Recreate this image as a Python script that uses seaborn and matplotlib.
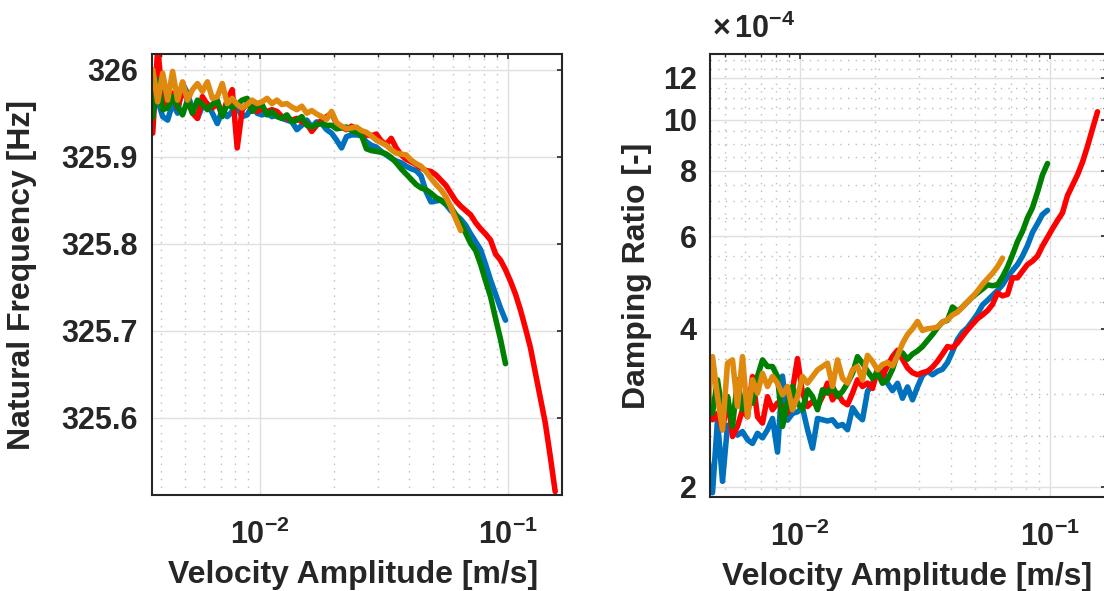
import numpy as np
import pandas as pd
import matplotlib
matplotlib.use("Agg")
import matplotlib.pyplot as plt
import seaborn as sns
from matplotlib.ticker import FixedLocator, FixedFormatter, NullFormatter

# ---------------- data ----------------
# common velocity sampling (m/s)
velocity = [
    0.003715, 0.003890, 0.004074, 0.004266, 0.004467, 0.004677, 0.004898, 0.005129, 0.005370, 0.005623,
    0.005888, 0.006166, 0.006457, 0.006761, 0.007079, 0.007413, 0.007762, 0.008128, 0.008511, 0.008913,
    0.009333, 0.009772, 0.01023, 0.01072, 0.01122, 0.01175, 0.01230, 0.01288, 0.01349, 0.01413,
    0.01479, 0.01549, 0.01622, 0.01698, 0.01778, 0.01862, 0.01950, 0.02042, 0.02138, 0.02239,
    0.02344, 0.02455, 0.02570, 0.02692, 0.02818, 0.02951, 0.03090, 0.03236, 0.03388, 0.03548,
    0.03715, 0.03890, 0.04074, 0.04266, 0.04467, 0.04677, 0.04898, 0.05129, 0.05370, 0.05623,
    0.05888, 0.06166, 0.06457, 0.06761, 0.07079, 0.07413, 0.07762, 0.08128, 0.08511, 0.08913,
    0.09333, 0.09772, 0.1023, 0.1072, 0.1122, 0.1175, 0.1230, 0.1288, 0.1349, 0.1413,
    0.1479, 0.1549,
]

# natural frequency [Hz] (start at velocity[0])
freq_blue = [
    325.958, 325.965, 325.946, 325.942, 325.961, 325.950, 325.984, 325.973, 325.954, 325.944,
    325.958, 325.961, 325.950, 325.938, 325.954, 325.946, 325.952, 325.956, 325.946, 325.948,
    325.958, 325.950, 325.948, 325.950, 325.946, 325.948, 325.944, 325.942, 325.940, 325.931,
    325.936, 325.942, 325.934, 325.940, 325.938, 325.931, 325.927, 325.919, 325.910, 325.923,
    325.925, 325.925, 325.924, 325.917, 325.913, 325.911, 325.906, 325.902, 325.898, 325.895,
    325.893, 325.889, 325.886, 325.884, 325.878, 325.860, 325.848, 325.849, 325.850, 325.845,
    325.838, 325.833, 325.828, 325.821, 325.811, 325.802, 325.793, 325.776, 325.758, 325.742,
    325.726, 325.712,
]
freq_red = [
    325.927, 326.025, 325.965, 325.958, 325.973, 325.956, 325.977, 325.965, 325.950, 325.944,
    325.969, 325.960, 325.956, 325.961, 325.948, 325.965, 325.977, 325.910, 325.954, 325.961,
    325.956, 325.952, 325.955, 325.952, 325.954, 325.952, 325.946, 325.944, 325.942, 325.944,
    325.940, 325.938, 325.929, 325.936, 325.942, 325.946, 325.950, 325.938, 325.934, 325.931,
    325.935, 325.932, 325.927, 325.925, 325.924, 325.926, 325.918, 325.914, 325.921, 325.910,
    325.902, 325.897, 325.894, 325.891, 325.887, 325.884, 325.883, 325.879, 325.873, 325.867,
    325.858, 325.849, 325.843, 325.838, 325.833, 325.824, 325.817, 325.811, 325.804, 325.788,
    325.781, 325.770, 325.757, 325.742, 325.724, 325.703, 325.681, 325.652, 325.623, 325.594,
    325.556, 325.515,
]
freq_green = [
    325.945, 325.988, 325.954, 325.956, 325.969, 325.958, 325.948, 325.965, 325.950, 325.965,
    325.960, 325.954, 325.960, 325.965, 325.946, 325.961, 325.956, 325.960, 325.965, 325.967,
    325.952, 325.958, 325.960, 325.948, 325.952, 325.946, 325.944, 325.948, 325.940, 325.942,
    325.946, 325.936, 325.934, 325.937, 325.938, 325.936, 325.936, 325.932, 325.933, 325.934,
    325.930, 325.928, 325.925, 325.909, 325.907, 325.906, 325.905, 325.903, 325.899, 325.893,
    325.886, 325.880, 325.874, 325.868, 325.864, 325.862, 325.858, 325.853, 325.850, 325.846,
    325.842, 325.833, 325.823, 325.812, 325.800, 325.792, 325.776, 325.757, 325.739, 325.714,
    325.690, 325.662,
]
freq_orange = [
    326.000, 325.963, 325.996, 325.965, 325.998, 325.965, 325.986, 325.965, 325.977, 325.984,
    325.975, 325.986, 325.967, 325.969, 325.984, 325.961, 325.967, 325.960, 325.956, 325.960,
    325.965, 325.961, 325.963, 325.967, 325.961, 325.965, 325.960, 325.961, 325.957, 325.954,
    325.958, 325.950, 325.953, 325.949, 325.946, 325.943, 325.952, 325.939, 325.935, 325.932,
    325.933, 325.934, 325.930, 325.928, 325.924, 325.919, 325.916, 325.913, 325.908, 325.904,
    325.903, 325.902, 325.896, 325.892, 325.889, 325.883, 325.875, 325.868, 325.862, 325.854,
    325.842, 325.828, 325.815,
]

# damping ratio [x 1e-4] (start at velocity[3])
damp_start = 3
damp_blue = [
    2.30, 1.95, 2.68, 2.05, 2.62, 2.57, 2.51, 2.55, 2.46, 2.42,
    2.53, 2.48, 2.57, 2.70, 2.33, 3.25, 2.68, 2.76, 2.78, 2.83,
    2.57, 2.37, 2.70, 2.685, 2.67, 2.685, 2.61, 2.63, 2.57, 2.83,
    2.74, 2.685, 3.04, 3.15, 3.35, 3.35, 3.15, 3.05, 3.15, 2.95,
    3.10, 2.93, 3.10, 3.26, 3.32, 3.27, 3.32, 3.35, 3.45, 3.62,
    3.82, 3.94, 4.02, 4.14, 4.27, 4.44, 4.53, 4.63, 4.73, 4.85,
    5.02, 5.16, 5.30, 5.50, 5.76, 6.10, 6.34, 6.60, 6.72,
]
damp_red = [
    2.89, 2.685, 2.76, 2.57, 2.97, 2.495, 2.61, 2.805, 2.72, 3.245,
    2.72, 2.646, 2.97, 2.805, 2.89, 2.846, 2.764, 3.06, 3.51, 3.017,
    2.846, 2.91, 2.846, 2.972, 3.152, 2.93, 3.017, 2.91, 2.867, 3.017,
    3.198, 3.106, 3.152, 3.08, 3.34, 3.25, 3.40, 3.54, 3.64, 3.50,
    3.37, 3.30, 3.27, 3.30, 3.32, 3.38, 3.47, 3.58, 3.70, 3.68,
    3.76, 3.87, 3.98, 4.08, 4.18, 4.25, 4.33, 4.45, 4.68, 4.62,
    4.65, 5.00, 5.00, 5.15, 5.30, 5.38, 5.50, 5.75, 5.97, 6.20,
    6.43, 6.65, 7.17, 7.50, 7.85, 8.30, 8.90, 9.60, 10.35,
]
damp_green = [
    3.061, 2.764, 3.198, 2.764, 2.972, 2.607, 3.198, 2.805, 3.017, 2.888,
    3.245, 3.49, 3.39, 3.39, 3.245, 2.607, 2.888, 3.106, 2.888, 2.805,
    3.061, 2.972, 2.805, 3.061, 3.017, 3.106, 2.972, 3.04, 3.152, 3.29,
    3.54, 3.44, 3.32, 3.22, 3.30, 3.15, 3.20, 3.35, 3.58, 3.60,
    3.50, 3.58, 3.63, 3.70, 3.80, 3.90, 4.02, 4.12, 4.15, 4.40,
    4.32, 4.40, 4.50, 4.60, 4.68, 4.76, 4.85, 4.83, 4.85, 5.02,
    5.24, 5.53, 5.86, 6.13, 6.50, 6.80, 7.28, 7.85, 8.25,
]
damp_orange = [
    2.764, 3.54, 2.972, 2.57, 3.44, 3.49, 2.846, 3.54, 2.724, 3.198,
    3.017, 3.29, 3.106, 3.245, 3.152, 2.995, 3.106, 2.805, 2.972, 3.245,
    3.152, 3.245, 3.34, 3.39, 3.44, 3.106, 3.49, 3.22, 3.152, 3.34,
    3.39, 3.198, 3.56, 3.465, 3.34, 3.42, 3.45, 3.40, 3.55, 3.75,
    3.90, 4.00, 4.13, 3.97, 4.00, 4.01, 4.03, 4.12, 4.16, 4.25,
    4.30, 4.40, 4.50, 4.60, 4.72, 4.86, 4.98, 5.10, 5.25, 5.45,
]

freq_ticks = [325.6, 325.7, 325.8, 325.9, 326.0]
freq_tick_labels = ["325.6", "325.7", "325.8", "325.9", "326"]
damp_ticks = [2, 4, 6, 8, 10, 12]
damp_tick_labels = ["2", "4", "6", "8", "10", "12"]
damp_minor = [2.5, 3, 3.5, 4.5, 5, 5.5, 6.5, 7, 7.5, 8.5, 9, 9.5, 10.5, 11, 11.5, 12.5, 13]
vel_ticks = [0.01, 0.1]
vel_tick_labels = [r"$10^{-2}$", r"$10^{-1}$"]
vel_minor = [0.002, 0.003, 0.004, 0.005, 0.006, 0.007, 0.008, 0.009,
             0.02, 0.03, 0.04, 0.05, 0.06, 0.07, 0.08, 0.09, 0.2]

series_names = ["blue", "red", "green", "orange"]
colors = {"blue": "#0072BD", "red": "#FF0000", "green": "#008000", "orange": "#DF8A0E"}
freq_data = {"blue": freq_blue, "red": freq_red, "green": freq_green, "orange": freq_orange}
damp_data = {"blue": damp_blue, "red": damp_red, "green": damp_green, "orange": damp_orange}

# ---------------- style ----------------
sns.set_theme(style="white")
TXT = "#262626"
plt.rcParams["font.family"] = ["Liberation Sans", "DejaVu Sans"]
plt.rcParams["font.weight"] = "bold"
plt.rcParams["mathtext.fontset"] = "custom"
plt.rcParams["mathtext.rm"] = "Liberation Sans:bold"
plt.rcParams["mathtext.it"] = "Liberation Sans:bold"
plt.rcParams["mathtext.bf"] = "Liberation Sans:bold"
plt.rcParams["mathtext.default"] = "rm"
plt.rcParams["text.color"] = TXT
plt.rcParams["axes.labelcolor"] = TXT
plt.rcParams["xtick.color"] = TXT
plt.rcParams["ytick.color"] = TXT

TICK_FS = 22
LABEL_FS = 23
LW = 4.0

W, H = 1104, 591
fig = plt.figure(figsize=(W / 100, H / 100), dpi=100)


def px_axes(l, t, r, b):
    return fig.add_axes([l / W, 1 - b / H, (r - l) / W, (b - t) / H])


ax1 = px_axes(152, 54, 562, 495)
ax2 = px_axes(710, 54, 1106, 497)


def style_axes(ax):
    ax.set_facecolor("white")
    for s in ax.spines.values():
        s.set_color(TXT)
        s.set_linewidth(1.5)
        s.set_visible(True)
    ax.tick_params(which="both", direction="in", top=True, right=True,
                   labelsize=TICK_FS, colors=TXT)
    ax.tick_params(which="major", length=3.8, width=1.2)
    ax.tick_params(which="minor", length=2.2, width=1.0)
    ax.set_axisbelow(True)


# ---- left: natural frequency ----
for name in series_names:
    y = freq_data[name]
    df = pd.DataFrame({"v": velocity[:len(y)], "f": y})
    sns.lineplot(data=df, x="v", y="f", color=colors[name], lw=LW, ax=ax1,
                 estimator=None, sort=False, legend=False)
ax1.set_xscale("log")
ax1.set_xlim(3.69e-3, 0.165)
ax1.set_ylim(325.511, 326.018)
style_axes(ax1)
ax1.xaxis.set_major_locator(FixedLocator(vel_ticks))
ax1.xaxis.set_major_formatter(FixedFormatter(vel_tick_labels))
ax1.xaxis.set_minor_locator(FixedLocator(vel_minor))
ax1.xaxis.set_minor_formatter(NullFormatter())
ax1.yaxis.set_major_locator(FixedLocator(freq_ticks))
ax1.yaxis.set_major_formatter(FixedFormatter(freq_tick_labels))
ax1.grid(which="major", color="#E0E0E0", lw=1.0, ls="-")
ax1.grid(which="minor", axis="x", color="#BDBDBD", lw=1.0, ls=(0, (1, 4.5)))
ax1.tick_params(axis="x", which="major", pad=18)
ax1.tick_params(axis="y", which="major", pad=10)
ax1.set_xlabel("Velocity Amplitude [m/s]", fontsize=LABEL_FS, fontweight="bold")
ax1.set_ylabel("Natural Frequency [Hz]", fontsize=LABEL_FS, fontweight="bold")
ax1.yaxis.set_label_coords((37 - 152) / 410, 0.5)
ax1.xaxis.set_label_coords(0.49, -(560 - 495) / 441)

# ---- right: damping ratio ----
for name in series_names:
    y = damp_data[name]
    df = pd.DataFrame({"v": velocity[damp_start:damp_start + len(y)], "d": y})
    sns.lineplot(data=df, x="v", y="d", color=colors[name], lw=LW, ax=ax2,
                 estimator=None, sort=False, legend=False)
ax2.set_xscale("log")
ax2.set_yscale("log")
ax2.set_xlim(4.365e-3, 0.1675)
ax2.set_ylim(1.914, 13.33)
style_axes(ax2)
ax2.xaxis.set_major_locator(FixedLocator(vel_ticks))
ax2.xaxis.set_major_formatter(FixedFormatter(vel_tick_labels))
ax2.xaxis.set_minor_locator(FixedLocator(vel_minor))
ax2.xaxis.set_minor_formatter(NullFormatter())
ax2.yaxis.set_major_locator(FixedLocator(damp_ticks))
ax2.yaxis.set_major_formatter(FixedFormatter(damp_tick_labels))
ax2.yaxis.set_minor_locator(FixedLocator(damp_minor))
ax2.yaxis.set_minor_formatter(NullFormatter())
ax2.grid(which="major", color="#E0E0E0", lw=1.0, ls="-")
ax2.grid(which="minor", color="#BDBDBD", lw=1.0, ls=(0, (1, 4.5)))
ax2.tick_params(axis="x", which="major", pad=18)
ax2.tick_params(axis="y", which="major", pad=9.5)
ax2.set_xlabel("Velocity Amplitude [m/s]", fontsize=LABEL_FS, fontweight="bold")
ax2.set_ylabel("Damping Ratio [-]", fontsize=LABEL_FS, fontweight="bold")
ax2.yaxis.set_label_coords((652 - 710) / 396, 0.5)
ax2.xaxis.set_label_coords((907 - 710) / 396, -(562 - 497) / 443)
ax2.text(0.005, 1.02, r"$\times\,10^{-4}$", transform=ax2.transAxes,
         fontsize=TICK_FS, ha="left", va="bottom", color=TXT)

fig.savefig("out.png", dpi=100, facecolor="white")
